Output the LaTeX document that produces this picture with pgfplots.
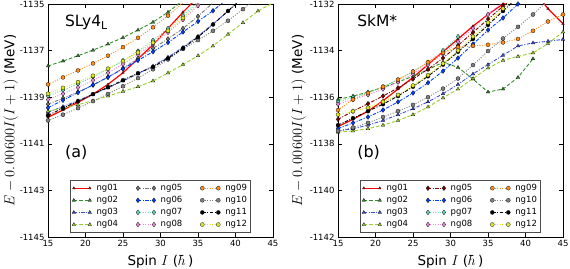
\documentclass[border=0pt]{standalone}
\usepackage{fontspec}
\setmainfont{DejaVu Sans}
\setsansfont{DejaVu Sans}
\usepackage{pgfplots}
\pgfplotsset{compat=1.18}
\definecolor{cg}{RGB}{50,140,40}
\definecolor{cb}{RGB}{60,80,220}
\definecolor{cyg}{RGB}{154,205,50}
\definecolor{cgr}{RGB}{120,120,120}
\definecolor{cmr}{RGB}{128,0,0}
\definecolor{cbl}{RGB}{0,64,255}
\definecolor{caq}{RGB}{102,221,170}
\definecolor{cpk}{RGB}{238,140,220}
\definecolor{cor}{RGB}{255,140,26}
\definecolor{cgy}{RGB}{128,128,128}
\definecolor{cye}{RGB}{220,230,40}
\pgfplotsset{
  dsh/.style={dash pattern=on 3.5pt off 2pt},
  dtt/.style={dash pattern=on 1pt off 1.5pt},
  ddt/.style={dash pattern=on 3.5pt off 1.5pt on 1pt off 1.5pt},
  ser/.style n args={5}{draw=#1, #2, line width=#3, mark=#4, mark size=#5,
    mark options={solid, fill=#1, draw=black, line width=0.25pt}},
  base/.style={scale only axis, height=233pt, width=225pt, xmin=15, xmax=45,
    xtick={15,20,...,45},
    tick label style={font=\fontsize{8.5}{10}\selectfont},
    /pgf/number format/assume math mode=true,
    /pgf/number format/1000 sep={},
    major tick length=4pt, tick style={black, line width=0.6pt},
    axis line style={line width=0.8pt},
    xlabel={Spin $I$ ($\hbar\,$)},
    ylabel={$E-0.\,00600I(I+1)$ (MeV)},
    every axis x label/.style={at={(axis description cs:0.5,-0.105)}, anchor=center,
      font=\fontsize{13.5}{16}\selectfont},
    legend columns=4, transpose legend, legend cell align=left,
    legend image code/.code={\draw[##1] plot coordinates {(0pt,0pt) (16pt,0pt)};},
    legend style={font=\fontsize{8.5}{10}\selectfont, draw=black!70, line width=0.6pt,
      inner sep=1.6pt, row sep=0.3pt,
      /tikz/every odd column/.append style={column sep=3pt},
      /tikz/every even column/.append style={column sep=16pt}},
  },
}
\begin{document}
\begin{tikzpicture}
\useasboundingbox (0,0) rectangle (570pt,268pt);
\begin{axis}[base, at={(48pt,31pt)}, anchor=south west,
  ymin=-1145, ymax=-1135, ytick={-1145,-1143,...,-1135},
  every axis y label/.style={at={(axis description cs:-0.165,0.5)}, rotate=90, anchor=center,
      font=\fontsize{13.5}{16}\selectfont},
  legend style={at={(0.5,0.02)}, anchor=south}]
\addplot[ser={red}{solid}{1.2pt}{triangle*}{1.5pt}] coordinates {(15,-1139.86)(17,-1139.55)(19,-1139.22)(21,-1138.87)(23,-1138.45)(25,-1137.95)(27,-1137.35)(29,-1136.75)(31,-1136.05)(33,-1135.35)(35,-1134.7)};
\addlegendentry{ng01}
\addplot[ser={cg}{dsh}{0.9pt}{triangle*}{2pt}] coordinates {(15,-1137.66)(17,-1137.45)(19,-1137.22)(21,-1136.98)(23,-1136.72)(25,-1136.44)(27,-1136.12)(29,-1135.78)(31,-1135.35)(33,-1134.85)(35,-1134.3)};
\addlegendentry{ng02}
\addplot[ser={cb}{ddt}{0.9pt}{triangle*}{2pt}] coordinates {(15,-1139.65)(17,-1139.4)(19,-1139.15)(21,-1138.88)(23,-1138.6)(25,-1138.3)(27,-1138.0)(29,-1137.66)(31,-1137.28)(33,-1136.86)(35,-1136.38)(37,-1135.86)(39,-1135.3)(41,-1134.7)};
\addlegendentry{ng03}
\addplot[ser={cyg}{dsh}{0.9pt}{triangle*}{2pt}] coordinates {(15,-1139.6)(17,-1139.47)(19,-1139.32)(21,-1139.15)(23,-1138.95)(25,-1138.75)(27,-1138.55)(29,-1138.3)(31,-1137.96)(33,-1137.6)(35,-1137.22)(37,-1136.8)(39,-1136.3)(41,-1135.8)(43,-1135.3)(45,-1134.95)};
\addlegendentry{ng04}
\addplot[ser={cgr}{ddt}{0.9pt}{diamond*}{2.4pt}] coordinates {(15,-1139.3)(17,-1139.05)(19,-1138.78)(21,-1138.48)(23,-1138.14)(25,-1137.76)(27,-1137.33)(29,-1136.9)(31,-1136.5)(33,-1136.05)(35,-1135.53)(37,-1134.95)};
\addlegendentry{ng05}
\addplot[ser={cbl}{ddt}{0.9pt}{diamond*}{2.4pt}] coordinates {(15,-1139.45)(17,-1139.13)(19,-1138.8)(21,-1138.47)(23,-1138.14)(25,-1137.78)(27,-1137.42)(29,-1137.05)(31,-1136.65)(33,-1136.2)(35,-1135.75)(37,-1135.29)(39,-1134.75)};
\addlegendentry{ng06}
\addplot[ser={caq}{dtt}{0.9pt}{diamond*}{2.4pt}] coordinates {(15,-1138.95)(17,-1138.7)(19,-1138.43)(21,-1138.13)(23,-1137.8)(25,-1137.43)(27,-1137.02)(29,-1136.56)(31,-1136.05)(33,-1135.5)(35,-1134.9)};
\addlegendentry{ng07}
\addplot[ser={cpk}{dtt}{0.9pt}{diamond*}{2.4pt}] coordinates {(15,-1139.1)(17,-1138.85)(19,-1138.58)(21,-1138.28)(23,-1137.95)(25,-1137.58)(27,-1137.17)(29,-1136.72)(31,-1136.22)(33,-1135.67)(35,-1135.07)(37,-1134.45)};
\addlegendentry{ng08}
\addplot[ser={cor}{dtt}{0.9pt}{*}{2pt}] coordinates {(15,-1138.45)(17,-1138.15)(19,-1137.85)(21,-1137.55)(23,-1137.22)(25,-1136.85)(27,-1136.45)(29,-1136.0)(31,-1135.5)(33,-1134.95)(35,-1134.4)};
\addlegendentry{ng09}
\addplot[ser={cgy}{dtt}{0.9pt}{*}{2pt}] coordinates {(15,-1140.0)(17,-1139.75)(19,-1139.47)(21,-1139.17)(23,-1138.86)(25,-1138.53)(27,-1138.18)(29,-1137.8)(31,-1137.38)(33,-1136.93)(35,-1136.55)(37,-1136.15)(39,-1135.72)(41,-1135.22)(43,-1134.7)};
\addlegendentry{ng10}
\addplot[ser={black}{ddt}{0.9pt}{*}{2pt}] coordinates {(15,-1139.78)(17,-1139.47)(19,-1139.17)(21,-1138.87)(23,-1138.57)(25,-1138.27)(27,-1137.97)(29,-1137.7)(31,-1137.33)(33,-1136.9)(35,-1136.42)(37,-1135.88)(39,-1135.3)(41,-1134.75)};
\addlegendentry{ng11}
\addplot[ser={cye}{dtt}{0.9pt}{*}{2pt}] coordinates {(15,-1138.85)(17,-1138.6)(19,-1138.35)(21,-1138.08)(23,-1137.78)(25,-1137.45)(27,-1137.08)(29,-1136.66)(31,-1136.15)(33,-1135.6)(35,-1134.97)(37,-1134.3)};
\addlegendentry{ng12}
\node[anchor=base west, font=\fontsize{15.5}{17}\selectfont] at (axis description cs:0.06,0.905) {SLy4$_{\mathrm{L}}$};
\node[anchor=base west, font=\fontsize{16}{18}\selectfont] at (axis description cs:0.06,0.34) {(a)};
\end{axis}
\begin{axis}[base, at={(338pt,31pt)}, anchor=south west,
  ymin=-1142, ymax=-1132, ytick={-1142,-1140,...,-1132},
  every axis y label/.style={at={(axis description cs:-0.175,0.5)}, rotate=90, anchor=center,
      font=\fontsize{13.5}{16}\selectfont},
  legend style={at={(0.5,0.02)}, anchor=south}]
\addplot[ser={red}{solid}{1.2pt}{triangle*}{1.5pt}] coordinates {(15,-1137.26)(17,-1136.95)(19,-1136.6)(21,-1136.15)(23,-1135.65)(25,-1135.15)(27,-1134.6)(29,-1134.05)(31,-1133.5)(33,-1132.95)(35,-1132.45)(37,-1132.0)(39,-1131.5)(41,-1131.4)(43,-1132.2)(45,-1132.85)};
\addlegendentry{ng01}
\addplot[ser={cg}{dsh}{0.9pt}{triangle*}{2pt}] coordinates {(15,-1136.1)(17,-1135.95)(19,-1135.78)(21,-1135.58)(23,-1135.35)(25,-1135.1)(27,-1134.82)(29,-1134.5)(31,-1134.72)(33,-1135.22)(35,-1135.78)(37,-1135.65)(39,-1135.15)(41,-1134.35)};
\addlegendentry{ng02}
\addplot[ser={cb}{ddt}{0.9pt}{triangle*}{2pt}] coordinates {(15,-1137.45)(17,-1137.35)(19,-1137.2)(21,-1137.0)(23,-1136.75)(25,-1136.5)(27,-1136.2)(29,-1135.85)(31,-1135.45)(33,-1135.0)(35,-1134.6)(37,-1134.2)(39,-1133.8)(41,-1133.67)(43,-1133.6)(45,-1133.52)};
\addlegendentry{ng03}
\addplot[ser={cyg}{dsh}{0.9pt}{triangle*}{2pt}] coordinates {(15,-1137.5)(17,-1137.45)(19,-1137.35)(21,-1137.2)(23,-1137.0)(25,-1136.75)(27,-1136.42)(29,-1136.03)(31,-1135.65)(33,-1135.2)(35,-1134.75)(37,-1134.42)(39,-1134.25)(41,-1134.1)(43,-1133.7)(45,-1133.2)};
\addlegendentry{ng04}
\addplot[ser={cmr}{ddt}{0.9pt}{diamond*}{2.4pt}] coordinates {(15,-1136.95)(17,-1136.6)(19,-1136.28)(21,-1135.95)(23,-1135.6)(25,-1135.22)(27,-1134.8)(29,-1134.32)(31,-1133.78)(33,-1133.22)(35,-1132.65)(37,-1132.1)(39,-1131.55)};
\addlegendentry{ng05}
\addplot[ser={cbl}{ddt}{0.9pt}{diamond*}{2.4pt}] coordinates {(15,-1137.35)(17,-1137.1)(19,-1136.85)(21,-1136.55)(23,-1136.2)(25,-1135.82)(27,-1135.38)(29,-1134.88)(31,-1134.32)(33,-1133.72)(35,-1133.12)(37,-1132.6)(39,-1132.0)(41,-1131.5)};
\addlegendentry{ng06}
\addplot[ser={caq}{dtt}{0.9pt}{diamond*}{2.4pt}] coordinates {(15,-1136.2)(17,-1136.0)(19,-1135.8)(21,-1135.55)(23,-1135.25)(25,-1134.9)(27,-1134.5)(29,-1134.0)(31,-1133.4)};
\addlegendentry{pg07}
\addplot[ser={cpk}{dtt}{0.9pt}{diamond*}{2.4pt}] coordinates {(15,-1136.3)(17,-1136.1)(19,-1135.9)(21,-1135.65)(23,-1135.35)(25,-1135.0)(27,-1134.6)(29,-1134.15)(31,-1133.62)(33,-1133.05)(35,-1132.45)(37,-1131.9)};
\addlegendentry{ng08}
\addplot[ser={cor}{dtt}{0.9pt}{*}{2pt}] coordinates {(15,-1136.55)(17,-1136.1)(19,-1135.82)(21,-1135.55)(23,-1135.25)(25,-1134.9)(27,-1134.5)(29,-1134.1)(31,-1133.85)(33,-1133.8)(35,-1133.75)(37,-1133.65)(39,-1133.5)(41,-1133.15)(43,-1132.75)(45,-1132.45)};
\addlegendentry{ng09}
\addplot[ser={cgy}{dtt}{0.9pt}{*}{2pt}] coordinates {(15,-1137.45)(17,-1137.3)(19,-1137.1)(21,-1136.85)(23,-1136.6)(25,-1136.33)(27,-1136.0)(29,-1135.63)(31,-1135.2)(33,-1134.62)(35,-1134.02)(37,-1133.48)(39,-1132.98)(41,-1132.45)(43,-1131.85)};
\addlegendentry{ng10}
\addplot[ser={black}{ddt}{0.9pt}{*}{2pt}] coordinates {(15,-1137.2)(17,-1136.9)(19,-1136.6)(21,-1136.3)(23,-1135.95)(25,-1135.55)(27,-1135.1)(29,-1134.6)(31,-1134.05)(33,-1133.5)(35,-1132.9)(37,-1132.3)(39,-1131.7)};
\addlegendentry{ng11}
\addplot[ser={cye}{dtt}{0.9pt}{*}{2pt}] coordinates {(15,-1136.75)(17,-1136.6)(19,-1136.45)(21,-1136.2)(23,-1135.9)(25,-1135.5)(27,-1135.05)(29,-1134.55)(31,-1134.0)(33,-1133.4)(35,-1132.8)(37,-1132.2)(39,-1131.6)};
\addlegendentry{ng12}
\node[anchor=base west, font=\fontsize{15.5}{17}\selectfont] at (axis description cs:0.07,0.905) {SkM*};
\node[anchor=base west, font=\fontsize{16}{18}\selectfont] at (axis description cs:0.07,0.34) {(b)};
\end{axis}
\end{tikzpicture}
\end{document}
